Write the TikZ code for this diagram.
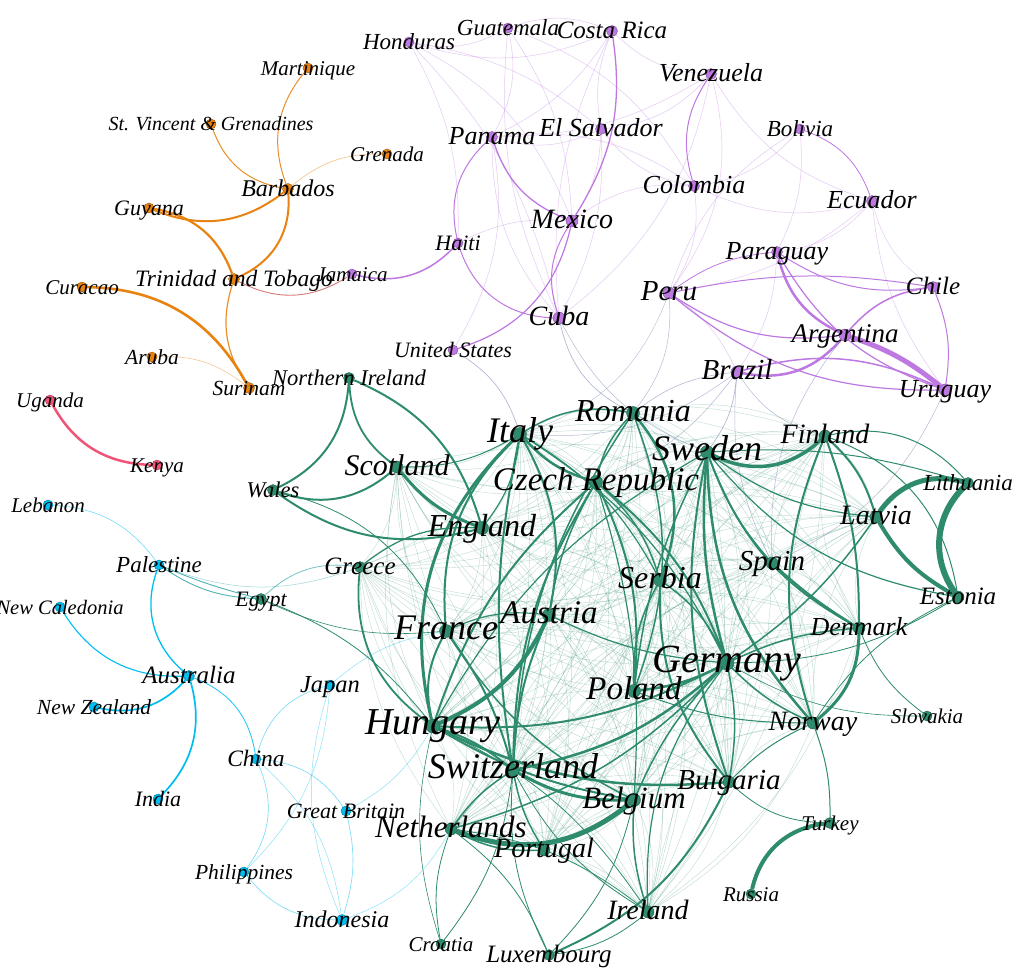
\documentclass[tikz,border=0pt]{standalone}
\usepackage{fontspec}
\setmainfont{Liberation Serif}
\pgfdeclarelayer{bg}
\pgfsetlayers{bg,main}
\definecolor{cO}{RGB}{232,131,18}
\definecolor{cP}{RGB}{190,120,225}
\definecolor{cG}{RGB}{46,139,110}
\definecolor{cB}{RGB}{0,190,240}
\definecolor{cK}{RGB}{240,85,120}
\definecolor{cX}{RGB}{120,130,175}
\definecolor{cR}{RGB}{215,120,125}
\definecolor{cT}{RGB}{60,170,170}
\tikzset{
  dot/.style={circle, inner sep=0pt, minimum size=11pt, line width=0.4pt},
  lab/.style={font=\itshape, text=black, inner sep=0pt, text height=1.0em, text depth=0em},
  mesh/.style={cG, line width=0.4pt, opacity=0.3},
}
\def\core{Ita,Rom,Cze,Swe,Eng,Ser,Aut,Fra,Ger,Pol,Hun,Swi,Bel,Net,Por,Bul,Spa,Den,Nor,Fin,Ire,Sco,Gre,Lat}
\def\nodelist{%
Mart/308/68/cO/21/10/Martinique,
StV/211/124/cO/20/10/{St. Vincent \& Grenadines},
Gren/387/154/cO/21/10/Grenada,
Barb/288/189/cO/24/11/Barbados,
Guy/149/208/cO/22/10/Guyana,
TT/234/279/cO/23.5/11/{Trinidad and Tobago},
Cur/82/287/cO/21/10/Curacao,
Aru/152/357/cO/21.5/10/Aruba,
Sur/249/388/cO/21.5/11/Surinam,
Uga/50/400/cK/21/10/Uganda,
Ken/157/465/cK/21/10/Kenya,
Leb/48/505/cB/21/10/Lebanon,
Pal/159/565/cB/23/10/Palestine,
NCal/60/607/cB/20.5/10/{New Caledonia},
Aus/189/676/cB/25/11/Australia,
NZ/94/707/cB/21.5/10/{New Zealand},
Ind/158/799/cB/22/10/India,
Jap/330/685/cB/24.5/10/Japan,
Chi/256/759/cB/23.5/10/China,
GB/346/811/cB/22/10/{Great Britain},
Phi/244/872/cB/21.5/10/Philippines,
Indo/342/920/cB/24/11/Indonesia,
NI/349/378/cG/22.5/11/{Northern Ireland},
Wal/273/490/cG/22.5/11/Wales,
Sco/397/467/cG/30/12/Scotland,
Eng/482/528/cG/32/13/England,
Gre/360/567/cG/25/11/Greece,
Egy/261/599/cG/22/11/Egypt,
Ita/520/434/cG/36/13/Italy,
Rom/633/413/cG/32/13/Romania,
Cze/596/482/cG/33/13/{Czech Republic},
Swe/707/452/cG/36/13/Sweden,
Fin/825/436/cG/28/12/Finland,
Lit/968/483/cG/23/11/Lithuania,
Lat/876/517/cG/28/12/Latvia,
Est/958/597/cG/25/12/Estonia,
Spa/772/563/cG/29/12/Spain,
Ser/660/580/cG/32/13/Serbia,
Aut/549/615/cG/33/13/Austria,
Fra/446/631/cG/36/13/France,
Ger/727/663/cG/40/14/Germany,
Den/859/628/cG/26/12/Denmark,
Pol/634/691/cG/33/13/Poland,
Nor/813/723/cG/28/12/Norway,
Slo/927/716/cG/21/10/Slovakia,
Hun/433/726/cG/38/14/Hungary,
Swi/513/770/cG/36/13/Switzerland,
Bul/729/782/cG/29/12/Bulgaria,
Bel/634/800/cG/31/13/Belgium,
Net/451/829/cG/31/12/Netherlands,
Por/544/850/cG/28/12/Portugal,
Tur/830/823/cG/21/11/Turkey,
Rus/751/894/cG/21/10/Russia,
Ire/648/912/cG/28/12/Ireland,
Cro/441/944/cG/21/10/Croatia,
Lux/549/955/cG/25/11/Luxembourg,
Hon/409/42/cP/23/10/Honduras,
Gua/508/28/cP/23/10/Guatemala,
CR/612/31/cP/25/11/{Costa Rica},
Ven/711/74/cP/26/11/Venezuela,
ElS/601/129/cP/26/11/{El Salvador},
Pan/492/137/cP/26/11/Panama,
Bol/800/129/cP/23/10/Bolivia,
Col/694/186/cP/26/11/Colombia,
Ecu/872/201/cP/26/11/Ecuador,
Mex/572/221/cP/28/12/Mexico,
Hai/458/243/cP/22/10/Haiti,
Jam/352/274/cP/21/10/Jamaica,
Par/777/252/cP/26/11/Paraguay,
Chl/933/287/cP/25/11/Chile,
Per/669/293/cP/29/12/Peru,
Cub/559/318/cP/28/12/Cuba,
US/453/350/cP/22/10/{United States},
Arg/845/335/cP/27/12/Argentina,
Bra/737/372/cP/29/12/Brazil,
Uru/945/390/cP/26/12/Uruguay}
\begin{document}
\begin{tikzpicture}[x=1pt,y=-1pt]
\useasboundingbox (0,0) rectangle (1024,976);
% dots
\foreach \n/\x/\y/\c/\s/\d/\t in \nodelist {
  \node[dot, fill=\c, draw=\c!65!black, minimum size=\d pt] (\n) at (\x,\y) {};
}
\begin{pgfonlayer}{bg}
\fill[white] (0,0) rectangle (1024,976);
% faint mesh of the European core
\foreach \a [count=\i] in \core {
  \foreach \b [count=\j] in \core {
    \ifnum\j>\i \draw[mesh] (\a) to[bend left=18] (\b); \fi
  }
}
% orange
\foreach \a/\b/\w/\bd/\op in {Mart/Barb/1/-30/0.9, StV/Barb/1/-30/0.9, Gren/Barb/0.7/-20/0.45,
  Guy/Barb/2/-30/1, Guy/TT/2.2/30/1, Barb/TT/2/35/1, TT/Sur/1.2/-25/0.9,
  Cur/Sur/2.6/30/1, Aru/Sur/0.6/20/0.45}
  {\draw[cO, line width=\w pt, opacity=\op] (\a) to[bend left=\bd] (\b);}
\draw[cR, line width=0.9pt] (TT) to[bend left=-30] (Jam);
% pink
\draw[cK, line width=2.5pt] (Uga) to[bend left=-30] (Ken);
% blue
\foreach \a/\b/\w/\bd/\op in {Leb/Pal/0.6/25/0.55, Pal/Aus/1.3/-35/1, NCal/Aus/1.1/-30/1,
  NZ/Aus/1.7/-30/1, Ind/Aus/1.7/-30/1, Aus/Chi/0.8/30/0.9,
  Chi/Jap/0.6/30/0.55, Chi/Phi/0.6/30/0.55, Chi/GB/0.6/25/0.55, Chi/Indo/0.5/20/0.45,
  Jap/Indo/0.5/-20/0.45, Jap/Phi/0.5/20/0.45, Phi/Indo/0.6/-25/0.55, GB/Indo/0.6/15/0.55,
  Jap/Fra/0.5/15/0.45, GB/Hun/0.5/-15/0.45, Indo/Net/0.5/-20/0.45}
  {\draw[cB, line width=\w pt, opacity=\op] (\a) to[bend left=\bd] (\b);}
\foreach \a/\b/\w/\bd/\op in {Pal/Egy/0.9/-15/0.9, Pal/Egy/0.9/-4/0.9, Egy/Gre/0.8/25/0.7, Pal/Gre/0.5/-20/0.5}
  {\draw[cT, line width=\w pt, opacity=\op] (\a) to[bend left=\bd] (\b);}
% purple faint
\foreach \a/\b/\bd in {Hon/Gua/-20, Hon/CR/-20, Hon/ElS/15, Hon/Mex/20, Hon/Hai/15, Hon/Cub/15,
  Gua/CR/20, Gua/Mex/15, Gua/Cub/-15, Gua/Pan/20, Gua/Col/20, CR/ElS/-15, CR/Ven/-20, CR/Cub/-15,
  CR/Pan/15, ElS/Mex/15, ElS/Pan/20, ElS/Col/-20, ElS/Ven/-20, ElS/Cub/15, Pan/Col/20, Pan/Ven/-15,
  Pan/Cub/-20, Mex/Col/20, Col/Bol/-20, Col/Ecu/-20, Col/Per/20, Ven/Ecu/-20, Ven/Per/25,
  Bol/Per/-20, Ecu/Chl/-20, Ecu/Uru/-15, Ecu/Par/20, Ecu/Per/15, Per/Bra/15, Bra/Par/-15,
  Bol/Par/15, Cub/Ven/-20, Hai/Mex/15, Pan/US/20}
  {\draw[cP, line width=0.5pt, opacity=0.4] (\a) to[bend left=\bd] (\b);}
% purple strong
\foreach \a/\b/\w/\bd in {Jam/Hai/1.5/-30, Hai/Pan/1/30, Hai/Cub/1/-35, Pan/Mex/1.3/-25,
  CR/Mex/1.3/20, Mex/Cub/1/-25, Mex/US/1.2/30, Ven/Col/1/-25, Bol/Ecu/0.8/25,
  Par/Arg/2.5/-25, Par/Uru/1.2/-20, Par/Chl/1/-20, Per/Arg/1.2/-20, Per/Uru/1.2/-20,
  Per/Chl/1/10, Per/Par/0.8/15, Chl/Uru/1/15, Chl/Arg/1.5/-20, Bra/Arg/2.5/-30,
  Bra/Uru/1.5/20, Arg/Uru/5/10}
  {\draw[cP, line width=\w pt] (\a) to[bend left=\bd] (\b);}
% cross edges
\foreach \a/\b/\w/\bd in {Cub/Rom/0.7/-25, US/Ita/0.7/20, Bra/Swe/0.7/15, Bra/Rom/0.6/-15,
  Bra/Ita/0.5/20, Bra/Spa/0.5/-15, Bra/Fin/0.5/-20, Bra/Cze/0.5/15, Per/Rom/0.5/20,
  Arg/Spa/0.5/-20, Uru/Spa/0.5/20, Cub/Swe/0.5/-20, Per/Ita/0.4/25}
  {\draw[cX, line width=\w pt, opacity=0.55] (\a) to[bend left=\bd] (\b);}
% green
\foreach \a/\b/\w/\bd in {NI/Wal/2/30, NI/Sco/1.8/-25, NI/Eng/2/25, Wal/Sco/2/-30, Wal/Eng/2/-25,
  Sco/Eng/3/-15, Wal/Fra/0.8/25, Sco/Ita/1/-15, Eng/Ita/1.2/-15, Gre/Eng/1.3/20, Gre/Hun/1.8/-30,
  Egy/Hun/0.8/15, Egy/Fra/0.6/-15,
  Ita/Hun/3/-30, Ita/Fra/2/-25, Ita/Swi/2/-10, Ita/Cze/2.5/-15, Ita/Aut/2/20, Ita/Rom/1.5/20,
  Ita/Ser/1.2/15, Ita/Ger/1.2/15, Rom/Ser/2.5/30, Rom/Cze/1.5/-15, Rom/Pol/1.5/20, Rom/Swi/1.5/-15,
  Cze/Pol/2/15, Cze/Aut/1.5/-10, Cze/Swi/2/-15, Cze/Hun/2/-15, Cze/Ger/2/15, Cze/Ser/1.5/15,
  Cze/Bel/1.2/10, Swe/Fin/3.5/-35, Swe/Ger/2.5/-10, Swe/Nor/2.5/-20, Swe/Den/2/-20, Swe/Bul/2/-15,
  Swe/Lat/1.2/-15, Swe/Est/1.2/-20, Swe/Lit/1/10, Swe/Pol/1.5/-10, Swe/Spa/1.2/-10, Swe/Hun/1.2/-15,
  Lat/Lit/5/35, Lat/Est/4/-15, Lit/Est/6/-40, Fin/Lat/2/15, Fin/Nor/2/-20, Fin/Den/2/10,
  Fin/Est/1/30, Fin/Lit/1/30, Den/Nor/3/25, Spa/Den/2/-5, Lat/Ger/1.5/10, Ger/Den/1.5/10,
  Ger/Nor/1.5/-10, Ger/Pol/2.5/10, Ger/Hun/2/15, Ger/Swi/2.5/15, Ger/Net/1.5/15, Ger/Bul/1.5/10,
  Ger/Bel/1.5/-10, Ser/Bul/2/-20, Ser/Pol/1.5/-15, Ser/Ger/1.5/15, Aut/Hun/4/20, Aut/Swi/2/-10,
  Aut/Ger/1.2/-10, Fra/Hun/2/-20, Fra/Swi/2/10, Fra/Bel/1.5/-15, Fra/Aut/1.2/15, Hun/Swi/2/10,
  Hun/Bul/2.5/-15, Hun/Bel/2/-10, Swi/Bel/3/-15, Swi/Net/1.5/-10, Swi/Por/1.5/-10, Net/Bel/5/-30,
  Net/Por/1.5/-15, Bel/Ire/1.5/-10, Lux/Bul/2/-20, Tur/Rus/4/-35, Nor/Tur/1/10, Den/Slo/0.8/-15,
  Ger/Slo/0.6/-15, Est/Nor/0.8/-15, Est/Ger/0.8/15, Bul/Tur/0.8/-20, Ire/Net/0.8/-15,
  Ire/Swi/0.8/15, Ire/Hun/0.8/-15, Ire/Ger/1.2/20, Cro/Net/0.8/15, Cro/Swi/0.8/-15,
  Cro/Hun/0.6/15, Lux/Net/0.8/-15, Lux/Swi/0.8/15, Lux/Bel/0.8/-15, Lux/Ire/0.8/-15,
  Nor/Bul/1/-10, Nor/Pol/1/10}
  {\draw[cG, line width=\w pt] (\a) to[bend left=\bd] (\b);}
\end{pgfonlayer}
% labels
\foreach \n/\x/\y/\c/\s/\d/\t in \nodelist {
  \node[lab, font=\itshape\fontsize{\s}{\s}\selectfont, yshift=-0.1*\s pt] (\n-l) at (\n.center) {\t};
}
\end{tikzpicture}
\end{document}
